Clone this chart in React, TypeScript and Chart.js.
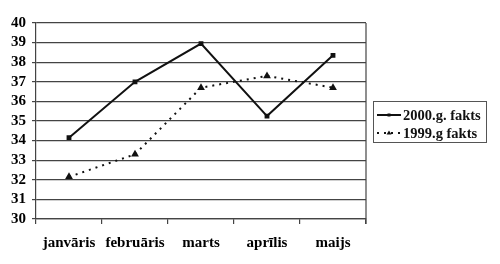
import React, { useEffect, useRef } from "react";
import { Chart, registerables } from "chart.js";

Chart.register(...registerables);

const categories = ["janvāris", "februāris", "marts", "aprīlis", "maijs"];
const series2000 = [34.15, 37.0, 38.95, 35.25, 38.35];
const series1999 = [32.15, 33.3, 36.7, 37.3, 36.7];
const seriesLabels = ["2000.g. fakts", "1999.g fakts"];
const yMin = 30;
const yMax = 40;

const FONT = '"Liberation Serif", "Times New Roman", serif';

const framePlugin = {
  id: "frameAndLegend",
  afterDraw(chart: any) {
    const ctx = chart.ctx;
    const a = chart.chartArea;
    ctx.save();
    // right border of plot area
    ctx.strokeStyle = "#444";
    ctx.lineWidth = 1.2;
    ctx.beginPath();
    ctx.moveTo(a.right, a.top);
    ctx.lineTo(a.right, a.bottom + 5);
    ctx.stroke();

    // legend box
    const bx = 373.5, by = 101.5, bw = 113, bh = 41;
    ctx.lineWidth = 1;
    ctx.strokeStyle = "#555";
    ctx.strokeRect(bx, by, bw, bh);
    chart.data.datasets.forEach((ds: any, i: number) => {
      const y = 115 + i * 18;
      ctx.strokeStyle = "#111";
      ctx.fillStyle = "#111";
      ctx.lineWidth = ds.borderWidth;
      ctx.setLineDash(ds.borderDash || []);
      ctx.beginPath();
      ctx.moveTo(377, y);
      ctx.lineTo(401, y);
      ctx.stroke();
      ctx.setLineDash([]);
      const mx = 389;
      if (ds.pointStyle === "rect") {
        ctx.fillRect(mx - 1.5, y - 1.5, 3, 3);
      } else {
        ctx.beginPath();
        ctx.moveTo(mx, y - 2.5);
        ctx.lineTo(mx + 2.5, y + 1.5);
        ctx.lineTo(mx - 2.5, y + 1.5);
        ctx.closePath();
        ctx.fill();
      }
      ctx.font = "bold 14.5px " + FONT;
      ctx.textBaseline = "middle";
      ctx.textAlign = "left";
      ctx.fillText(ds.label, 403, y + 1);
    });
    ctx.restore();
  },
};

export default function App() {
  const ref = useRef<HTMLCanvasElement | null>(null);
  useEffect(() => {
    if (!ref.current) return;
    const chart = new Chart(ref.current, {
      type: "line",
      data: {
        labels: categories,
        datasets: [
          {
            label: seriesLabels[0],
            data: series2000,
            borderColor: "#111",
            backgroundColor: "#111",
            borderWidth: 2,
            pointStyle: "rect",
            pointRadius: 2,
            tension: 0,
          },
          {
            label: seriesLabels[1],
            data: series1999,
            borderColor: "#111",
            backgroundColor: "#111",
            borderWidth: 2,
            borderDash: [2, 5],
            pointStyle: "triangle",
            pointRadius: 2.5,
            tension: 0,
          },
        ],
      },
      options: {
        animation: false,
        responsive: false,
        layout: { padding: { top: 23, right: 134, left: 0, bottom: 0 } },
        plugins: { legend: { display: false }, tooltip: { enabled: false } },
        scales: {
          x: {
            offset: true,
            afterFit(scale: any) {
              scale.height = 45;
            },
            grid: {
              offset: true,
              drawOnChartArea: false,
              drawTicks: true,
              tickLength: 5,
              color: "#444",
              lineWidth: 1.2,
            },
            border: { color: "#444", width: 1.2 },
            ticks: {
              color: "#000",
              padding: 10,
              autoSkip: false,
              font: { family: FONT, size: 15, weight: "bold" },
              maxRotation: 0,
            },
          },
          y: {
            min: yMin,
            max: yMax,
            afterFit(scale: any) {
              scale.width = 36;
            },
            grid: { color: "#444", lineWidth: 1.2, tickLength: 4 },
            border: { color: "#444", width: 1.2 },
            ticks: {
              stepSize: 1,
              autoSkip: false,
              color: "#000",
              padding: 6,
              font: { family: FONT, size: 15, weight: "bold" },
            },
          },
        },
      },
      plugins: [framePlugin],
    } as any);
    return () => chart.destroy();
  }, []);
  return (
    <div style={{ position: "fixed", left: 0, top: 0, width: 500, height: 264, background: "#fff" }}>
      <canvas ref={ref} width={500} height={264} style={{ display: "block" }} />
    </div>
  );
}
